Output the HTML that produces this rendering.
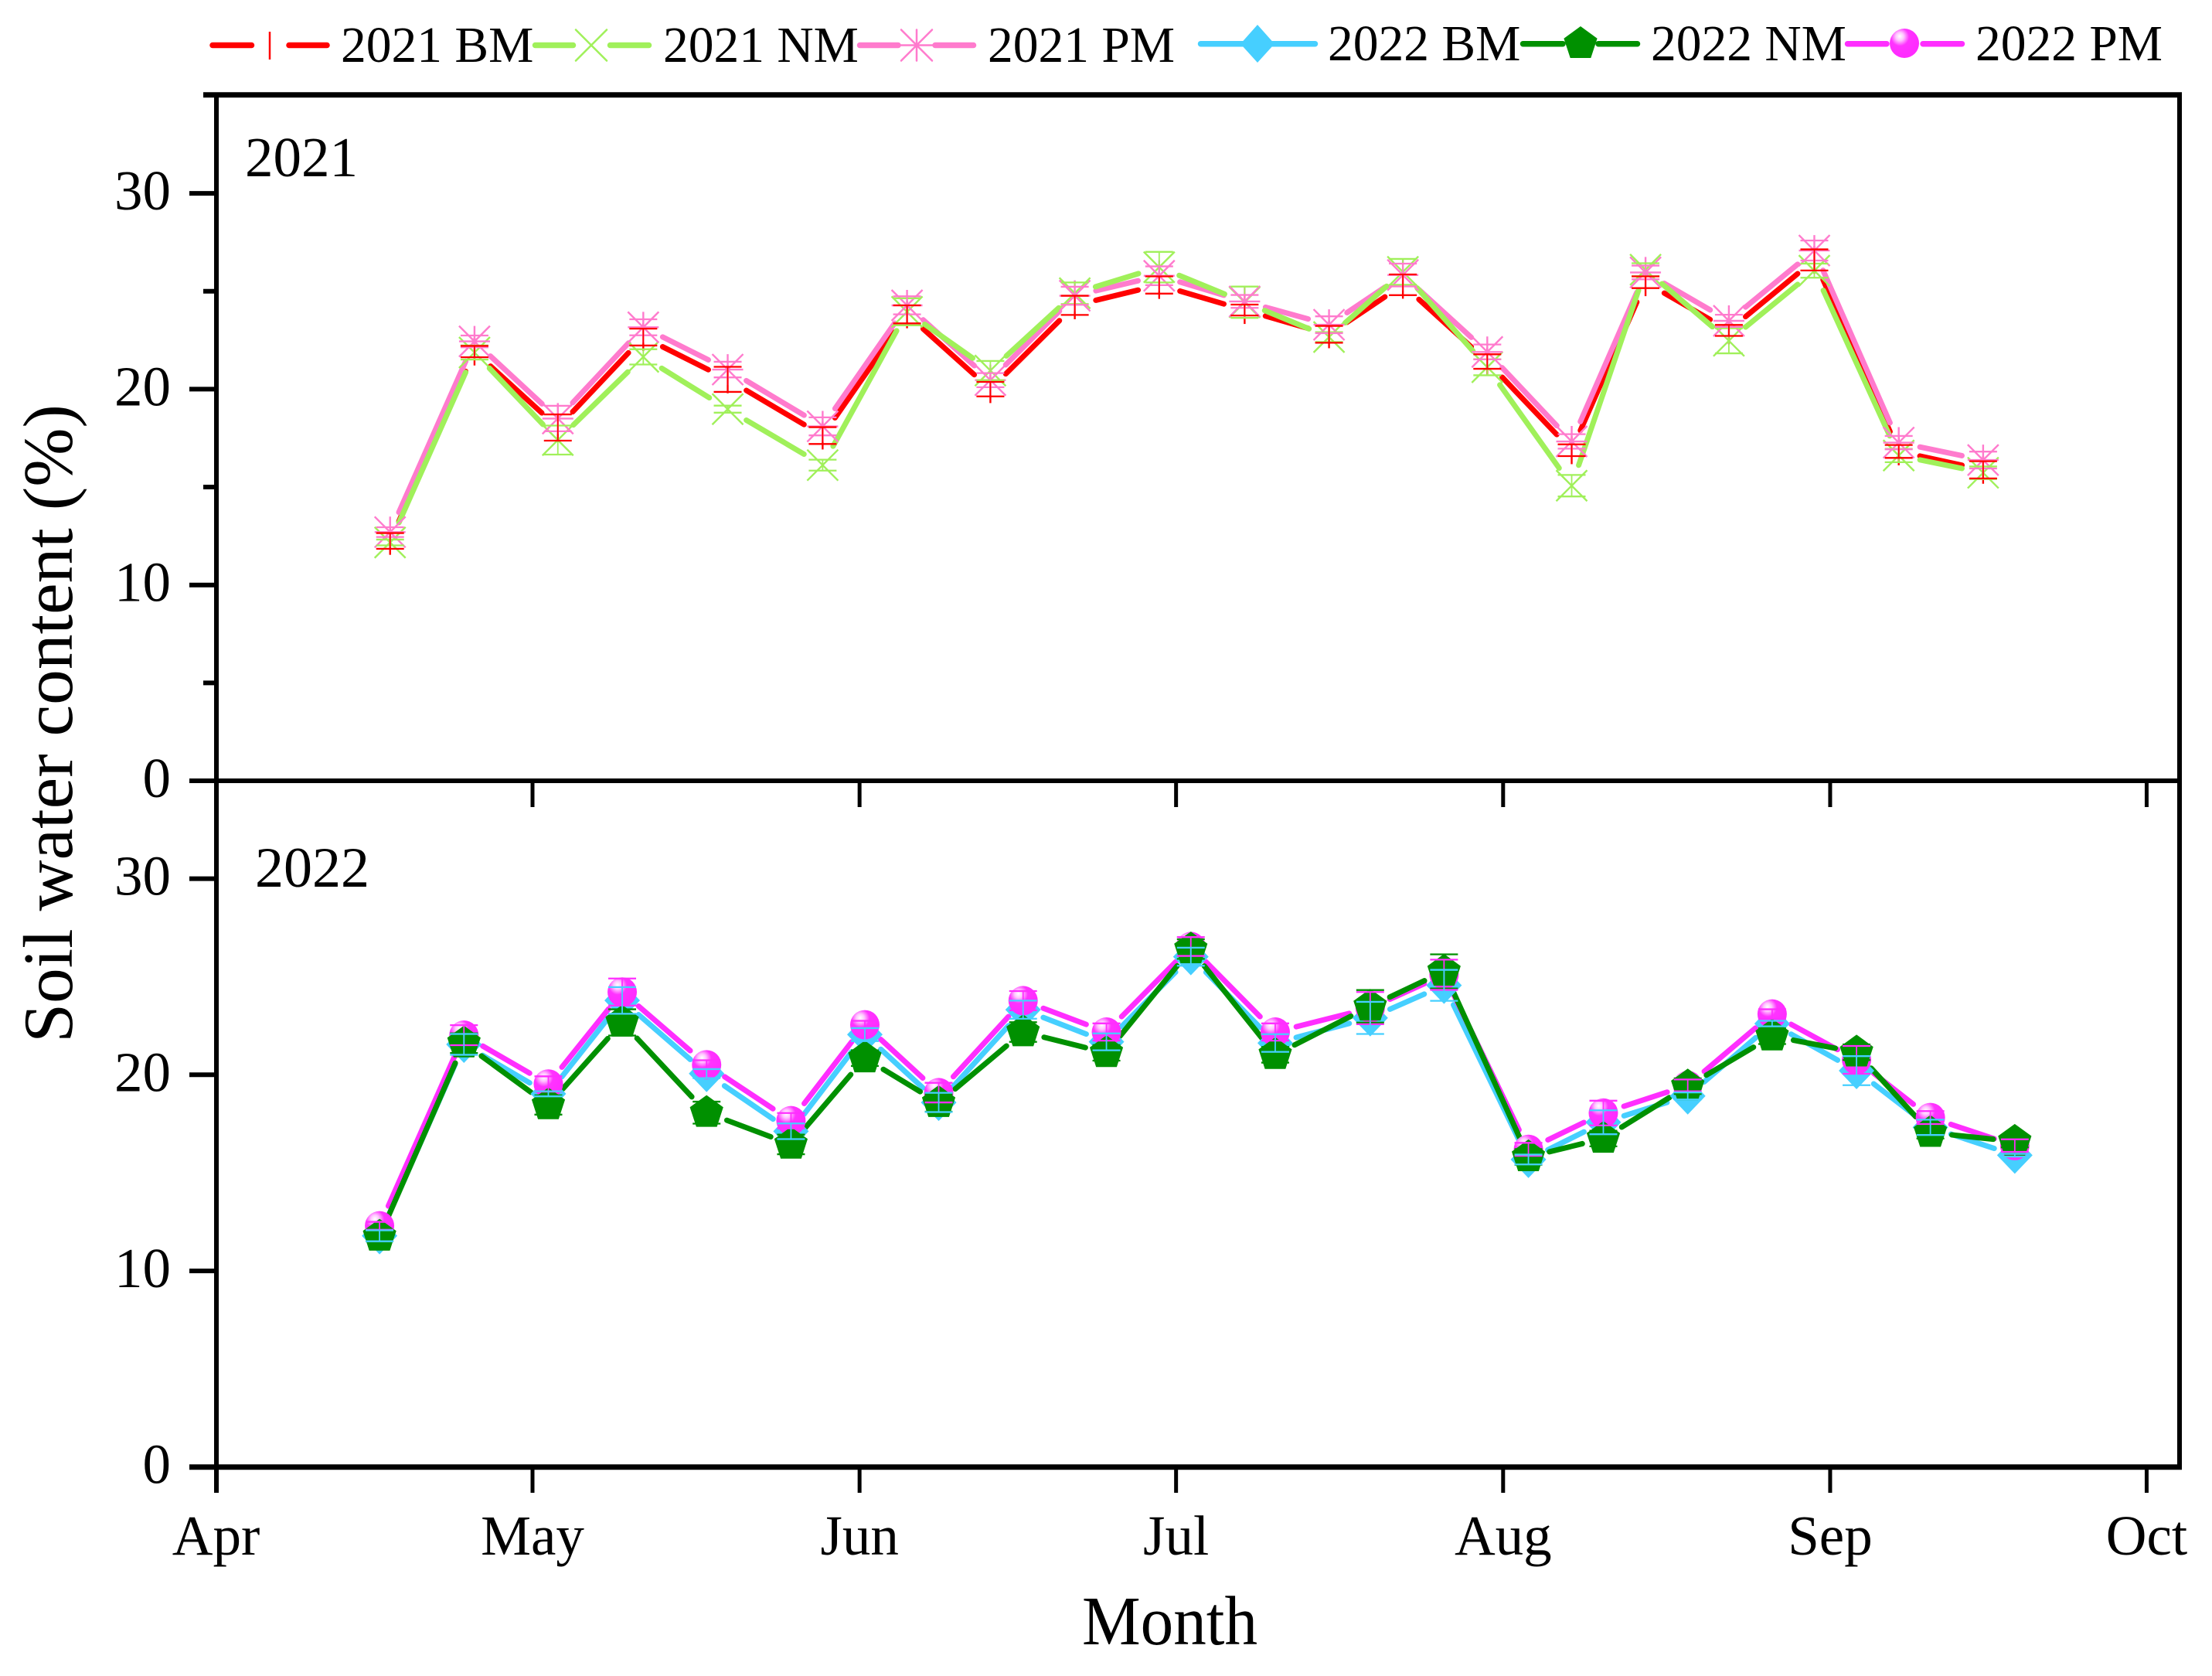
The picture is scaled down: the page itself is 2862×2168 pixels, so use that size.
<!DOCTYPE html>
<html lang="en">
<head>
<meta charset="utf-8">
<title>Soil water content 2021 and 2022</title>
<style>
  html, body { margin: 0; padding: 0; background: #ffffff; }
  svg { display: block; }
  text { font-family: "Liberation Serif", "Times New Roman", serif; fill: #000000; }
</style>
</head>
<body>
<svg id="chart" xmlns="http://www.w3.org/2000/svg" width="2862" height="2168" viewBox="0 0 2862 2168">
  <defs>
    <radialGradient id="ball" cx="0.36" cy="0.3" r="0.62" fx="0.34" fy="0.26">
      <stop offset="0" stop-color="#ffffff"/>
      <stop offset="0.22" stop-color="#ffc6ff"/>
      <stop offset="0.5" stop-color="#ff33ff"/>
      <stop offset="1" stop-color="#ff2cff"/>
    </radialGradient>
  </defs>
  <rect x="0" y="0" width="2862" height="2168" fill="#ffffff"/>

  <g id="frame" stroke="#000000" fill="none">
    <line x1="263" y1="122.7" x2="2823" y2="122.7" stroke-width="7"/>
    <line x1="2820" y1="120" x2="2820" y2="1900" stroke-width="6"/>
    <line x1="280" y1="120" x2="280" y2="1931" stroke-width="6"/>
    <line x1="245" y1="1010" x2="2823" y2="1010" stroke-width="6"/>
    <line x1="245" y1="1897.7" x2="2823" y2="1897.7" stroke-width="7"/>
  </g>

  <g id="axes"></g>
  <g id="panel2021"></g>
  <g id="panel2022"></g>

  <text x="317" y="228" font-size="73">2021</text>
  <text x="330" y="1147" font-size="74">2022</text>
  <text transform="translate(93 936) rotate(-90)" text-anchor="middle" font-size="91.5">Soil water content (%)</text>
  <text x="1400" y="2127" font-size="90" textLength="227" lengthAdjust="spacingAndGlyphs">Month</text>

  <g stroke-linecap="round">
    <g>
      <line x1="275" y1="58.5" x2="325.5" y2="58.5" stroke="#ff0000" stroke-width="7.5"/>
      <line x1="374" y1="58.5" x2="423" y2="58.5" stroke="#ff0000" stroke-width="7.5"/>
      <line x1="349" y1="41" x2="349" y2="77" stroke="#ff0000" stroke-width="2.5" stroke-linecap="butt"/>
      <text x="441" y="80" font-size="65.5">2021 BM</text>
    </g>
    <g>
      <line x1="692.5" y1="58.5" x2="741.5" y2="58.5" stroke="#a0f05a" stroke-width="7.5"/>
      <line x1="789.5" y1="58.5" x2="839.5" y2="58.5" stroke="#a0f05a" stroke-width="7.5"/>
      <path d="M745 38.5 L785 78.5 M785 38.5 L745 78.5" stroke="#a0f05a" stroke-width="2.5" fill="none"/>
      <text x="858" y="80" font-size="65.5">2021 NM</text>
    </g>
    <g>
      <line x1="1112.5" y1="58.5" x2="1162" y2="58.5" stroke="#ff7bcd" stroke-width="7.5"/>
      <line x1="1210" y1="58.5" x2="1259.5" y2="58.5" stroke="#ff7bcd" stroke-width="7.5"/>
      <path d="M1166 38.5 L1206 78.5 M1206 38.5 L1166 78.5 M1186 38.5 L1186 78.5 M1162 58.5 L1210 58.5" stroke="#ff7bcd" stroke-width="2.5" fill="none"/>
      <text x="1278" y="80" font-size="65.5">2021 PM</text>
    </g>
    <g>
      <line x1="1553.5" y1="56.7" x2="1701.5" y2="56.7" stroke="#46cfff" stroke-width="7.5"/>
      <polygon points="1627,32 1649,56.7 1627,81 1605,56.7" fill="#46cfff"/>
      <text x="1718" y="78" font-size="65.5">2022 BM</text>
    </g>
    <g>
      <line x1="1970.5" y1="56.7" x2="2022" y2="56.7" stroke="#009000" stroke-width="7.5"/>
      <line x1="2068" y1="56.7" x2="2118.5" y2="56.7" stroke="#009000" stroke-width="7.5"/>
      <polygon points="2045,34 2066.6,49.7 2058.3,75 2031.7,75 2023.4,49.7" fill="#009000"/>
      <text x="2136" y="78" font-size="65.5">2022 NM</text>
    </g>
    <g>
      <line x1="2390.5" y1="56.7" x2="2441" y2="56.7" stroke="#ff2eff" stroke-width="7.5"/>
      <line x1="2488" y1="56.7" x2="2538.5" y2="56.7" stroke="#ff2eff" stroke-width="7.5"/>
      <circle cx="2464" cy="56" r="19" fill="url(#ball)"/>
      <text x="2556" y="78" font-size="65.5">2022 PM</text>
    </g>
  </g>
</svg>

<script>
// ---- Axis categories and tick labels ----
const monthTickDays = [0, 30, 61, 91, 122, 153, 183];
const monthLabels = ['Apr', 'May', 'Jun', 'Jul', 'Aug', 'Sep', 'Oct'];
const yMajorTicks = [0, 10, 20, 30];
const yMinorTicks2021 = [5, 15, 25];

// ---- Sampling days (days since 1 April) ----
const days2021 = [16.5, 24.5, 32.4, 40.5, 48.5, 57.5, 65.5, 73.4, 81.4, 89.4, 97.5, 105.5, 112.5, 120.5, 128.5, 135.5, 143.4, 151.5, 159.5, 167.5];
const days2022 = [15.5, 23.5, 31.5, 38.5, 46.5, 54.5, 61.5, 68.5, 76.5, 84.4, 92.4, 100.4, 109.4, 116.4, 124.4, 131.5, 139.5, 147.5, 155.5, 162.5, 170.5];

// ---- 2021 series (%) ----
const bm2021 = [12.25, 21.92, 18.04, 22.66, 20.5, 17.63, 23.82, 20.0, 24.28, 25.32, 24.04, 22.8, 25.33, 21.41, 16.88, 25.46, 23.0, 26.6, 16.82, 15.88];
const bm2021Err = [0.4, 0.29, 0.67, 0.43, 0.64, 0.43, 0.46, 0.37, 0.49, 0.44, 0.28, 0.43, 0.53, 0.37, 0.3, 0.3, 0.28, 0.54, 0.33, 0.44];
const nm2021 = [12.17, 21.87, 17.4, 21.65, 18.98, 16.12, 23.95, 20.95, 24.9, 26.23, 24.44, 22.66, 25.99, 21.12, 15.07, 26.1, 22.47, 26.05, 16.61, 15.73];
const nm2021Err = [0.15, 0.36, 0.74, 0.39, 0.18, 0.28, 0.69, 0.49, 0.55, 0.78, 0.8, 0.25, 0.66, 0.41, 0.55, 0.33, 0.64, 0.36, 0.34, 0.32];
const pm2021 = [12.7, 22.44, 18.5, 23.16, 21.0, 18.1, 24.28, 20.46, 24.77, 25.79, 24.48, 23.29, 25.83, 21.9, 17.33, 25.96, 23.49, 27.08, 17.27, 16.38];
const pm2021Err = [0.25, 0.3, 0.65, 0.41, 0.4, 0.46, 0.46, 0.36, 0.46, 0.48, 0.33, 0.43, 0.58, 0.38, 0.37, 0.35, 0.31, 0.51, 0.34, 0.43];

// ---- 2022 series (%) ----
const bm2022 = [11.79, 21.55, 19.03, 23.79, 20.06, 17.12, 22.05, 18.59, 23.32, 21.68, 26.02, 21.62, 22.9, 24.56, 15.68, 17.58, 18.92, 22.61, 20.21, 17.32, 15.9];
const bm2022Err = [0.28, 0.53, 0.13, 0.68, 0.23, 0.4, 0.33, 0.49, 0.46, 0.43, 0.46, 0.45, 0.82, 0.79, 0.25, 0.61, 0.18, 0.14, 0.74, 0.39, 0.07];
const nm2022 = [11.76, 21.61, 18.46, 22.67, 18.07, 16.45, 20.85, 18.57, 22.18, 21.12, 26.41, 21.02, 23.49, 25.27, 15.81, 16.75, 19.42, 21.97, 21.15, 17.05, 16.6];
const nm2022Err = [0.25, 0.5, 0.49, 0.67, 0.56, 0.5, 0.4, 0.45, 0.5, 0.4, 0.5, 0.4, 0.83, 0.87, 0.4, 0.4, 0.4, 0.4, 0.4, 0.3, 0.3];
const pm2022 = [12.3, 22.02, 19.53, 24.22, 20.51, 17.66, 22.55, 19.09, 23.78, 22.18, 26.54, 22.18, 23.4, 25.1, 16.2, 18.05, 19.46, 23.1, 20.76, 17.82, 16.39];
const pm2022Err = [0.2, 0.51, 0.39, 0.69, 0.23, 0.39, 0.2, 0.5, 0.49, 0.44, 0.48, 0.44, 0.82, 0.77, 0.33, 0.63, 0.3, 0.24, 0.71, 0.33, 0.32];

const NS = 'http://www.w3.org/2000/svg';

// Axis functions
function xScale(day) { return 279.5 + day * 13.65; }
function yTop(v) { return 1010 - v * 25.33; }
function yBottom(v) { return 1897.7 - v * 25.37; }

function make(tag, attrs, parent) {
  const e = document.createElementNS(NS, tag);
  for (const k in attrs) e.setAttribute(k, attrs[k]);
  parent.appendChild(e);
  return e;
}

function drawLine(days, vals, yFn, color, parent, seriesName) {
  const gap = 28;
  const g = make('g', { stroke: color, 'stroke-width': 7, 'stroke-linecap': 'round', fill: 'none' }, parent);
  
  
  for (let i = 0; i < vals.length - 1; i++) {
    const x1 = xScale(days[i]), y1 = yFn(vals[i]);
    const x2 = xScale(days[i + 1]), y2 = yFn(vals[i + 1]);
    const d = Math.hypot(x2 - x1, y2 - y1);
    if (d <= gap * 2) continue;
    const ux = (x2 - x1) / d, uy = (y2 - y1) / d;
    const seg = make('line', { x1: x1 + ux * gap, y1: y1 + uy * gap, x2: x2 - ux * gap, y2: y2 - uy * gap }, g);
    
    
  }
}

function drawMarker(kind, x, y, color, parent) {
  const g = make('g', {}, parent);
  
  
  const r = 20;
  if (kind === 'bar') {
    make('line', { x1: x, y1: y - 18, x2: x, y2: y + 18, stroke: color, 'stroke-width': 2.4 }, g);
  } else if (kind === 'cross') {
    make('path', { d: `M${x - r} ${y - r}L${x + r} ${y + r}M${x + r} ${y - r}L${x - r} ${y + r}`, stroke: color, 'stroke-width': 2.4, fill: 'none' }, g);
  } else if (kind === 'star') {
    make('path', { d: `M${x - r} ${y - r}L${x + r} ${y + r}M${x + r} ${y - r}L${x - r} ${y + r}M${x} ${y - r}L${x} ${y + r}M${x - r} ${y}L${x + r} ${y}`, stroke: color, 'stroke-width': 2.4, fill: 'none' }, g);
  } else if (kind === 'diamond') {
    make('polygon', { points: `${x},${y - 24} ${x + 23},${y} ${x},${y + 24} ${x - 23},${y}`, fill: color }, g);
  } else if (kind === 'pentagon') {
    const R = 22.7;
    const p = [];
    for (let k = 0; k < 5; k++) {
      const a = -Math.PI / 2 + k * 2 * Math.PI / 5;
      p.push((x + R * Math.cos(a)).toFixed(1) + ',' + (y + R * Math.sin(a)).toFixed(1));
    }
    make('polygon', { points: p.join(' '), fill: color }, g);
  } else if (kind === 'ball') {
    make('circle', { cx: x, cy: y, r: 19, fill: 'url(#ball)' }, g);
  }
}

function drawMarkers(kind, days, vals, yFn, color, parent) {
  for (let i = 0; i < vals.length; i++) {
    drawMarker(kind, xScale(days[i]), yFn(vals[i]), color, parent);
  }
}

function drawErrors(days, vals, errs, yFn, color, parent, seriesName) {
  const cap = 18;
  const g = make('g', { stroke: color, fill: 'none' }, parent);
  
  
  for (let i = 0; i < vals.length; i++) {
    const x = xScale(days[i]);
    const hi = yFn(vals[i] + errs[i]);
    const lo = yFn(vals[i] - errs[i]);
    const bar = make('path', { d: `M${x} ${hi}L${x} ${lo}`, 'stroke-width': 1.8 }, g);
    
    
    const caps = make('path', { d: `M${x - cap} ${hi}L${x + cap} ${hi}M${x - cap} ${lo}L${x + cap} ${lo}`, 'stroke-width': 2.3 }, g);
    
    
  }
}

// ---- Axes ----
const axes = document.getElementById('axes');

function drawYTicks(yFn, panelName) {
  for (let i = 0; i < yMajorTicks.length; i++) {
    const v = yMajorTicks[i];
    const y = yFn(v);
    const tick = make('line', { x1: 245, y1: y, x2: 280, y2: y, stroke: '#000', 'stroke-width': 6 }, axes);
    
    
    const label = make('text', { x: 221, y: y + 21, 'text-anchor': 'end', 'font-size': 73 }, axes);
    
    
    label.textContent = String(v);
  }
}
drawYTicks(yTop, 'panel-2021');
drawYTicks(yBottom, 'panel-2022');

for (let i = 0; i < yMinorTicks2021.length; i++) {
  const y = yTop(yMinorTicks2021[i]);
  const minor = make('line', { x1: 263, y1: y, x2: 280, y2: y, stroke: '#000', 'stroke-width': 6 }, axes);
  
  
}

for (let i = 0; i < monthTickDays.length; i++) {
  const x = xScale(monthTickDays[i]);
  const t1 = make('line', { x1: x, y1: 1010, x2: x, y2: 1044, stroke: '#000', 'stroke-width': 5 }, axes);
  
  
  const t2 = make('line', { x1: x, y1: 1897, x2: x, y2: 1931, stroke: '#000', 'stroke-width': 5 }, axes);
  
  
  const label = make('text', { x: x, y: 2011, 'text-anchor': 'middle', 'font-size': 73 }, axes);
  
  
  label.textContent = monthLabels[i];
}

// ---- 2021 panel ----
const p21 = document.getElementById('panel2021');
const RED = '#ff0000', LIME = '#a0f05a', PINK = '#ff7bcd';
drawLine(days2021, bm2021, yTop, RED, p21, 'series-2021-bm');
drawLine(days2021, pm2021, yTop, PINK, p21, 'series-2021-pm');
drawLine(days2021, nm2021, yTop, LIME, p21, 'series-2021-nm');
drawMarkers('bar', days2021, bm2021, yTop, RED, p21);
drawMarkers('cross', days2021, nm2021, yTop, LIME, p21);
drawMarkers('star', days2021, pm2021, yTop, PINK, p21);
drawErrors(days2021, nm2021, nm2021Err, yTop, LIME, p21, 'series-2021-nm');
drawErrors(days2021, pm2021, pm2021Err, yTop, PINK, p21, 'series-2021-pm');
drawErrors(days2021, bm2021, bm2021Err, yTop, RED, p21, 'series-2021-bm');

// ---- 2022 panel ----
const p22 = document.getElementById('panel2022');
const SKY = '#46cfff', GREEN = '#009000', MAGENTA = '#ff2eff';
drawLine(days2022, bm2022, yBottom, SKY, p22, 'series-2022-bm');
drawLine(days2022, pm2022, yBottom, MAGENTA, p22, 'series-2022-pm');
drawLine(days2022, nm2022, yBottom, GREEN, p22, 'series-2022-nm');
drawMarkers('diamond', days2022, bm2022, yBottom, SKY, p22);
drawMarkers('ball', days2022, pm2022, yBottom, MAGENTA, p22);
drawMarkers('pentagon', days2022, nm2022, yBottom, GREEN, p22);
drawErrors(days2022, nm2022, nm2022Err, yBottom, GREEN, p22, 'series-2022-nm');
drawErrors(days2022, pm2022, pm2022Err, yBottom, MAGENTA, p22, 'series-2022-pm');
drawErrors(days2022, bm2022, bm2022Err, yBottom, SKY, p22, 'series-2022-bm');
</script>
</body>
</html>
